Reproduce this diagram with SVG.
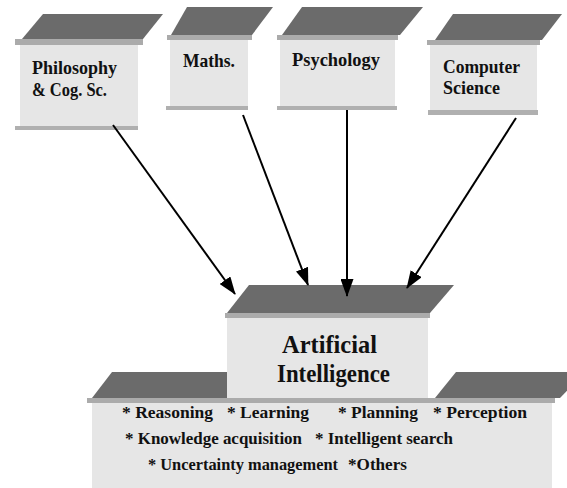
<svg xmlns="http://www.w3.org/2000/svg" width="567" height="488" viewBox="0 0 567 488">
  <style>
    .roof { fill: #6b6b6b; }
    .rim { fill: #ababab; }
    .body { fill: #e6e6e6; }
    .base { fill: #b0b0b0; }
    .lbl { font-family: 'Liberation Serif', 'Times New Roman', Tinos, 'Nimbus Roman', 'Nimbus Roman No9 L', FreeSerif, 'Noto Serif', 'DejaVu Serif', Times, serif; font-weight: bold; fill: #111; }
    .conn { stroke: #000; stroke-width: 2; fill: none; marker-end: url(#head); }
  </style>
  <defs>
    <marker id="head" markerUnits="userSpaceOnUse" markerWidth="18" markerHeight="13" refX="17" refY="6.5" orient="auto">
      <path d="M0,0 L18,6.5 L0,13 Z" fill="#000"/>
    </marker>
  </defs>

  <rect width="567" height="488" fill="#fff"/>

  <!-- source disciplines -->
  <g id="philosophy">
    <polygon class="roof" points="43,14 163,14 143,39 22,39"/>
    <rect class="rim" x="15" y="39" width="128" height="6"/>
    <rect class="body" x="20" y="45" width="118" height="81"/>
    <rect class="base" x="15" y="126" width="123" height="4"/>
    <text class="lbl" x="32" y="74" font-size="19" textLength="85" lengthAdjust="spacingAndGlyphs">Philosophy</text>
    <text class="lbl" x="32" y="96" font-size="19" textLength="75" lengthAdjust="spacingAndGlyphs">&amp; Cog. Sc.</text>
  </g>

  <g id="maths">
    <polygon class="roof" points="187,7 273,7 252,35 171,35"/>
    <rect class="rim" x="167" y="35" width="85" height="5"/>
    <rect class="body" x="170" y="40" width="78" height="66"/>
    <rect class="base" x="166" y="106" width="82" height="4"/>
    <text class="lbl" x="183" y="67" font-size="19" textLength="52" lengthAdjust="spacingAndGlyphs">Maths.</text>
  </g>

  <g id="psychology">
    <polygon class="roof" points="302,7 423,7 400,35 282,35"/>
    <rect class="rim" x="277" y="35" width="121" height="5"/>
    <rect class="body" x="280" y="40" width="115" height="66"/>
    <rect class="base" x="277" y="106" width="120" height="4"/>
    <text class="lbl" x="292" y="66" font-size="19" textLength="88" lengthAdjust="spacingAndGlyphs">Psychology</text>
  </g>

  <g id="computer-science">
    <polygon class="roof" points="453,14 562,14 542,40 435,40"/>
    <rect class="rim" x="427" y="40" width="113" height="5"/>
    <rect class="body" x="430" y="45" width="107" height="65"/>
    <rect class="base" x="428" y="110" width="110" height="5"/>
    <text class="lbl" x="443" y="73" font-size="18" textLength="77" lengthAdjust="spacingAndGlyphs">Computer</text>
    <text class="lbl" x="443" y="94" font-size="18" textLength="57" lengthAdjust="spacingAndGlyphs">Science</text>
  </g>

  <!-- lower platform: side roofs sit behind the central block -->
  <g id="ai-topics">
    <polygon class="roof" points="112,372 227,372 227,398 92,398"/>
    <polygon class="roof" points="456,372 585,372 560,398 435,398"/>
  </g>

  <g id="ai">
    <polygon class="roof" points="249,285 454,285 430,313 227,313"/>
    <rect class="rim" x="225" y="313" width="205" height="5"/>
    <rect class="body" x="227" y="318" width="201" height="80"/>
    <text class="lbl" x="282" y="353" font-size="26" textLength="95" lengthAdjust="spacingAndGlyphs">Artificial</text>
    <text class="lbl" x="277" y="382" font-size="26" textLength="113" lengthAdjust="spacingAndGlyphs">Intelligence</text>
  </g>

  <g id="ai-topics-body">
    <rect class="rim" x="87" y="398" width="468" height="5"/>
    <rect class="body" x="92" y="403" width="460" height="85"/>
    <text class="lbl" x="122" y="418" font-size="17" textLength="91" lengthAdjust="spacingAndGlyphs">* Reasoning</text>
    <text class="lbl" x="227" y="418" font-size="17" textLength="82" lengthAdjust="spacingAndGlyphs">* Learning</text>
    <text class="lbl" x="338" y="418" font-size="17" textLength="80" lengthAdjust="spacingAndGlyphs">* Planning</text>
    <text class="lbl" x="433" y="418" font-size="17" textLength="94" lengthAdjust="spacingAndGlyphs">* Perception</text>
    <text class="lbl" x="125" y="444" font-size="17" textLength="177" lengthAdjust="spacingAndGlyphs">* Knowledge acquisition</text>
    <text class="lbl" x="315" y="444" font-size="17" textLength="138" lengthAdjust="spacingAndGlyphs">* Intelligent search</text>
    <text class="lbl" x="148" y="470" font-size="17" textLength="190" lengthAdjust="spacingAndGlyphs">* Uncertainty management</text>
    <text class="lbl" x="348" y="470" font-size="17" textLength="59" lengthAdjust="spacingAndGlyphs">*Others</text>
  </g>

  <!-- contributions flowing into AI -->
  <g id="connectors">
    <line class="conn" x1="113" y1="125" x2="235" y2="294"/>
    <line class="conn" x1="243" y1="115" x2="308" y2="285"/>
    <line class="conn" x1="347" y1="110" x2="347" y2="296"/>
    <line class="conn" x1="516" y1="118" x2="407" y2="288"/>
  </g>
</svg>
